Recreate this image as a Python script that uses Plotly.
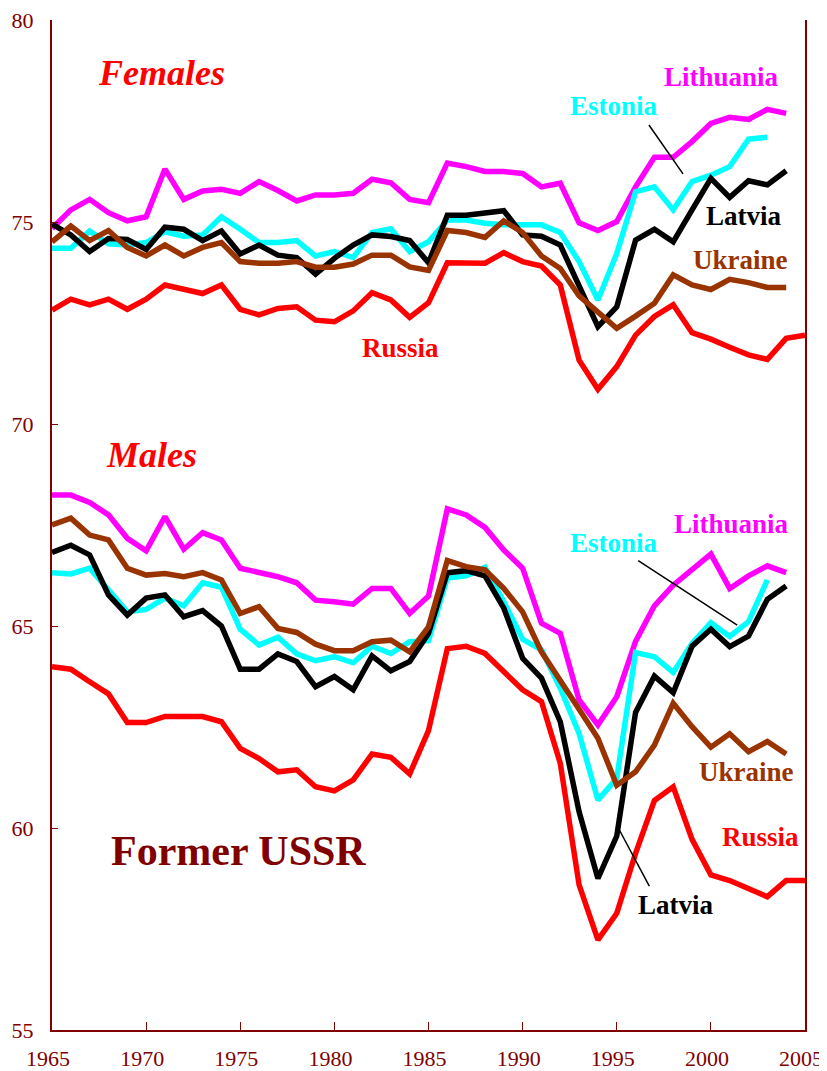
import plotly.graph_objects as go

# ---------------- data ----------------
years_f = list(range(1965, 2006))
years_m = list(range(1965, 2006))

lithuania_f = [74.84, 75.30, 75.56, 75.23, 75.03, 75.13, 76.31, 75.56, 75.77, 75.81,
               75.71, 76.00, 75.78, 75.52, 75.67, 75.67, 75.71, 76.06, 75.97, 75.56,
               75.48, 76.46, 76.37, 76.25, 76.25, 76.20, 75.87, 75.96, 74.98, 74.79,
               75.01, 75.87, 76.60, 76.60, 76.99, 77.44, 77.59, 77.54, 77.79, 77.69]
estonia_f = [74.35, 74.35, 74.78, 74.46, 74.43, 74.49, 74.76, 74.65, 74.68, 75.13,
             74.82, 74.49, 74.49, 74.54, 74.16, 74.27, 74.12, 74.74, 74.83, 74.27,
             74.51, 75.05, 75.05, 74.97, 74.93, 74.93, 74.93, 74.74, 74.02, 73.07,
             74.22, 75.75, 75.87, 75.30, 76.00, 76.16, 76.37, 77.05, 77.10]
latvia_f = [74.95, 74.68, 74.27, 74.59, 74.57, 74.32, 74.87, 74.82, 74.54, 74.78,
            74.21, 74.43, 74.18, 74.12, 73.71, 74.10, 74.43, 74.68, 74.64, 74.54,
            73.99, 75.17, 75.17, 75.23, 75.28, 74.68, 74.65, 74.43, 73.40, 72.41,
            72.90, 74.55, 74.82, 74.51, 75.30, 76.08, 75.61, 76.02, 75.92, 76.27]
ukraine_f = [74.51, 74.90, 74.54, 74.79, 74.37, 74.16, 74.43, 74.16, 74.37, 74.49,
             74.02, 73.98, 73.98, 74.02, 73.88, 73.88, 73.96, 74.18, 74.18, 73.89,
             73.80, 74.79, 74.74, 74.62, 75.03, 74.74, 74.16, 73.85, 73.17, 72.78,
             72.37, 72.67, 72.99, 73.69, 73.44, 73.33, 73.58, 73.50, 73.38, 73.38]
russia_f = [72.82, 73.09, 72.95, 73.09, 72.84, 73.09, 73.44, 73.32, 73.23, 73.44,
            72.84, 72.70, 72.86, 72.90, 72.57, 72.53, 72.80, 73.25, 73.07, 72.64,
            73.00, 73.99, 73.98, 73.98, 74.24, 74.02, 73.91, 73.44, 71.58, 70.86,
            71.42, 72.20, 72.66, 72.95, 72.26, 72.10, 71.90, 71.71, 71.60, 72.12, 72.20]

lithuania_m = [68.24, 68.24, 68.06, 67.75, 67.17, 66.86, 67.71, 66.90, 67.31, 67.13,
               66.43, 66.32, 66.22, 66.07, 65.64, 65.60, 65.54, 65.93, 65.93, 65.31,
               65.74, 67.90, 67.75, 67.44, 66.88, 66.43, 65.07, 64.82, 63.17, 62.55,
               63.25, 64.62, 65.50, 66.01, 66.39, 66.78, 65.93, 66.24, 66.49, 66.32]
estonia_m = [66.32, 66.29, 66.43, 65.91, 65.35, 65.41, 65.69, 65.50, 66.07, 65.96,
             64.92, 64.53, 64.72, 64.31, 64.14, 64.24, 64.09, 64.50, 64.32, 64.61,
             64.64, 66.19, 66.24, 66.45, 65.60, 64.67, 64.41, 63.46, 62.34, 60.69,
             61.23, 64.34, 64.24, 63.85, 64.57, 65.08, 64.74, 65.11, 66.14]
latvia_m = [66.82, 67.00, 66.76, 65.77, 65.27, 65.69, 65.77, 65.23, 65.38, 65.00,
            63.93, 63.93, 64.31, 64.12, 63.50, 63.75, 63.42, 64.26, 63.89, 64.12,
            64.82, 66.32, 66.37, 66.24, 65.44, 64.20, 63.71, 62.63, 60.40, 58.75,
            59.80, 62.86, 63.76, 63.35, 64.50, 64.92, 64.49, 64.75, 65.66, 65.99]
ukraine_m = [67.50, 67.67, 67.25, 67.13, 66.43, 66.26, 66.30, 66.22, 66.32, 66.14,
             65.31, 65.48, 64.94, 64.84, 64.55, 64.39, 64.39, 64.61, 64.65, 64.36,
             64.98, 66.62, 66.47, 66.39, 65.93, 65.35, 64.36, 63.62, 62.94, 62.22,
             61.06, 61.39, 62.05, 63.09, 62.51, 62.00, 62.33, 61.89, 62.14, 61.83]
russia_m = [63.99, 63.93, 63.62, 63.32, 62.61, 62.61, 62.76, 62.76, 62.76, 62.63,
            61.97, 61.72, 61.39, 61.44, 61.02, 60.92, 61.19, 61.83, 61.75, 61.34,
            62.41, 64.44, 64.50, 64.32, 63.87, 63.42, 63.13, 61.60, 58.59, 57.23,
            57.89, 59.37, 60.68, 61.02, 59.72, 58.84, 58.70, 58.51, 58.30, 58.70, 58.70]

x_ticks = [1965, 1970, 1975, 1980, 1985, 1990, 1995, 2000, 2005]
y_ticks = [55, 60, 65, 70, 75, 80]

countries = ["Lithuania", "Estonia", "Latvia", "Ukraine", "Russia"]
colors = {"Lithuania": "#FF00FF", "Estonia": "#00FFFF", "Latvia": "#000000",
          "Ukraine": "#993300", "Russia": "#FF0000"}
female = {"Lithuania": lithuania_f, "Estonia": estonia_f, "Latvia": latvia_f,
          "Ukraine": ukraine_f, "Russia": russia_f}
male = {"Lithuania": lithuania_m, "Estonia": estonia_m, "Latvia": latvia_m,
        "Ukraine": ukraine_m, "Russia": russia_m}

AXIS = "#800000"
SERIF = "Liberation Serif, Times New Roman, serif"

fig = go.Figure()
for c in countries:
    for series, yrs in ((female[c], years_f), (male[c], years_m)):
        fig.add_trace(go.Scatter(
            x=yrs[:len(series)], y=series, mode="lines",
            line=dict(color=colors[c], width=5.5),
            showlegend=False, hoverinfo="skip"))

# pointer lines
for (x0, y0, x1, y1) in [(1996.71, 77.40, 1998.52, 76.19),
                         (1996.14, 66.62, 2001.40, 65.02),
                         (1995.14, 59.95, 1996.73, 58.56)]:
    fig.add_shape(type="line", xref="x", yref="y", x0=x0, y0=y0, x1=x1, y1=y1,
                  line=dict(color="black", width=1.5))

labels = [
    ("Females", 1970.83, 78.68, "#FF0000", 36, True),
    ("Males", 1970.26, 69.24, "#FF0000", 36, True),
    ("Former USSR", 1974.93, 59.44, "#800000", 42, False),
    ("Lithuania", 2000.59, 78.59, "#FF00FF", 27, False),
    ("Estonia", 1994.85, 77.87, "#00FFFF", 27, False),
    ("Latvia", 2001.76, 75.15, "#000000", 27, False),
    ("Ukraine", 2001.60, 74.06, "#993300", 27, False),
    ("Russia", 1983.51, 71.89, "#FF0000", 27, False),
    ("Lithuania", 2001.12, 67.52, "#FF00FF", 27, False),
    ("Estonia", 1994.85, 67.05, "#00FFFF", 27, False),
    ("Ukraine", 2001.87, 61.39, "#993300", 27, False),
    ("Russia", 2002.61, 59.78, "#FF0000", 27, False),
    ("Latvia", 1998.15, 58.09, "#000000", 27, False),
]
for text, x, y, col, size, ital in labels:
    t = f"<b><i>{text}</i></b>" if ital else f"<b>{text}</b>"
    fig.add_annotation(x=x, y=y, xref="x", yref="y", text=t, showarrow=False,
                       xanchor="center", yanchor="middle",
                       font=dict(family=SERIF, size=size, color=col))

fig.update_xaxes(range=[1965, 2005], tickvals=x_ticks,
                 ticks="inside", ticklen=8,
                 tickwidth=1, tickcolor=AXIS, showline=True, linecolor=AXIS,
                 linewidth=2, showgrid=False, zeroline=False, automargin=False,
                 tickfont=dict(family=SERIF, size=22, color=AXIS),
                 ticklabelstandoff=8, ticklabelshift=-4, ticklabeloverflow="allow")
fig.update_yaxes(range=[55, 80], tickvals=y_ticks, ticks="inside", ticklen=6,
                 tickwidth=1, tickcolor=AXIS, showline=True, linecolor=AXIS,
                 linewidth=2, mirror=True, showgrid=False, zeroline=False,
                 automargin=False, ticklabeloverflow="allow",
                 tickfont=dict(family=SERIF, size=22, color=AXIS),
                 ticklabelstandoff=12)

# page body has an 8px margin; size the figure so the plot lands where the reference has it
fig.update_layout(width=819, height=1063, plot_bgcolor="white", paper_bgcolor="white",
                  margin=dict(l=44, r=22, t=12, b=41), showlegend=False)

fig.write_html("out.html")
